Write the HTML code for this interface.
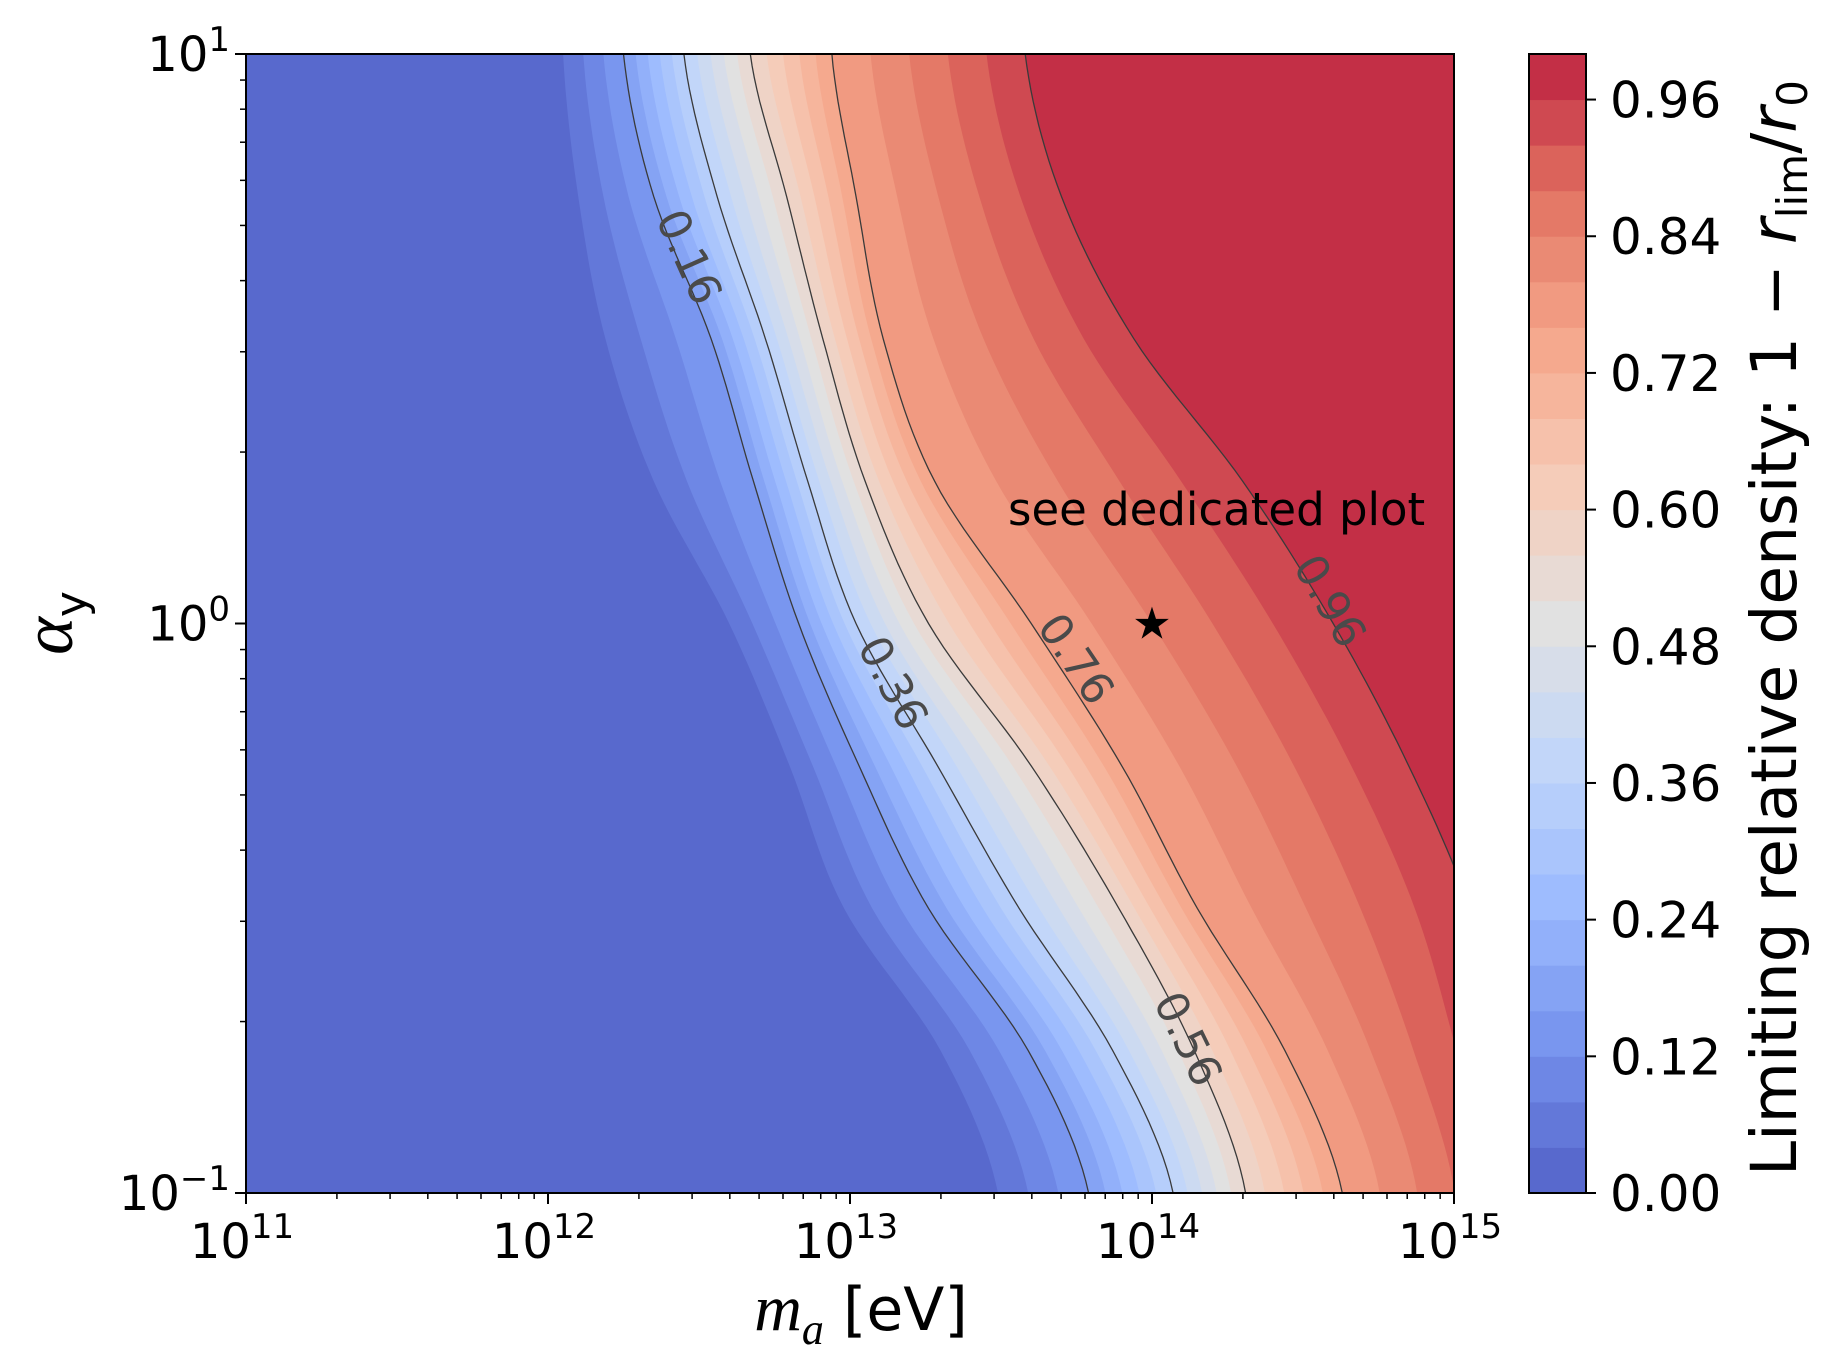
<!DOCTYPE html>
<html><head><meta charset="utf-8">
<style>
html,body{margin:0;padding:0;background:#fff;}
svg{display:block;}
text{font-family:"DejaVu Sans","Liberation Sans",sans-serif;}
</style></head>
<body>
<svg id="chart" width="1830" height="1372" viewBox="0 0 1830 1372" xmlns="http://www.w3.org/2000/svg">
<defs><clipPath id="plotclip"><rect x="246" y="54" width="1208" height="1139"/></clipPath></defs>
<g id="bands" clip-path="url(#plotclip)"></g>
<g id="lines" clip-path="url(#plotclip)"></g>
<g id="clabels"></g>
<g id="axes"></g>
<g id="cbar"></g>
</svg>
<script>
// ---- data ----
const alphaLogs = [1, 0.75, 0.5, 0.25, 0, -0.25, -0.5, -0.75, -1];
const contourLevels = [0.04, 0.16, 0.36, 0.56, 0.76, 0.96];
const c004 = [12.05, 12.10, 12.19, 12.35, 12.60, 12.80, 12.98, 13.30, 13.49];
const c016 = [12.25, 12.35, 12.54, 12.68, 12.83, 13.03, 13.26, 13.59, 13.79];
const c036 = [12.45, 12.56, 12.72, 12.86, 13.02, 13.29, 13.56, 13.87, 14.07];
const c056 = [12.67, 12.79, 12.91, 13.05, 13.26, 13.60, 13.89, 14.14, 14.31];
const c076 = [12.94, 13.02, 13.11, 13.28, 13.60, 13.90, 14.15, 14.44, 14.63];
const c096 = [13.58, 13.70, 13.94, 14.30, 14.60, 14.85, 15.05, 15.15, 15.25];
const lineLevels = [0.16, 0.36, 0.56, 0.76, 0.96];
const xTicks = [11, 12, 13, 14, 15];
const yTicks = [1, 0, -1];
const cbarTicks = [0.00, 0.12, 0.24, 0.36, 0.48, 0.60, 0.72, 0.84, 0.96];
const contourLabelText = ["0.16", "0.36", "0.56", "0.76", "0.96"];
const starPoint = [14, 0];

// ---- geometry ----
const X0=246, X1=1454, Y0=54, Y1=1193;
const xS = lm => X0 + (lm-11)/4*(X1-X0);
const yS = la => Y0 + (1-la)/2*(Y1-Y0);
const CB0=1529, CB1=1586;
const cbY = v => Y1 - v*(Y1-Y0);
const NS="http://www.w3.org/2000/svg";
function mk(tag, attrs, parent){const e=document.createElementNS(NS,tag);for(const k in attrs)e.setAttribute(k,attrs[k]);parent.appendChild(e);return e;}

const curves=[c004,c016,c036,c056,c076,c096];
const cw=[[0,59,76,192],[0.125,98,130,234],[0.25,141,176,254],[0.375,184,208,249],[0.5,221,221,221],[0.625,245,196,173],[0.75,244,154,123],[0.875,222,96,77],[1,180,4,38]];
function coolwarm(t){for(let i=0;i<cw.length-1;i++){if(t<=cw[i+1][0]){const f=(t-cw[i][0])/(cw[i+1][0]-cw[i][0]);return [1,2,3].map(j=>cw[i][j]+(cw[i+1][j]-cw[i][j])*f);}}return cw[cw.length-1].slice(1);}
function bandColor(i){const c=coolwarm((i+0.5)/25).map(v=>Math.round(v*0.88+255*0.12));return `rgb(${c[0]},${c[1]},${c[2]})`;}

function curveForLevel(L){
  let k=0; while(k<contourLevels.length-2 && L>contourLevels[k+1]) k++;
  const f=(L-contourLevels[k])/(contourLevels[k+1]-contourLevels[k]);
  return alphaLogs.map((a,j)=>curves[k][j]+(curves[k+1][j]-curves[k][j])*f);
}
function samples(xs){
  const pts=[]; const n=alphaLogs.length;
  for(let i=0;i<n-1;i++){
    const p0=xs[Math.max(i-1,0)],p1=xs[i],p2=xs[i+1],p3=xs[Math.min(i+2,n-1)];
    const a0=alphaLogs[i],a1=alphaLogs[i+1];
    for(let s=0;s<12;s++){const t=s/12;
      const x=0.5*((2*p1)+(-p0+p2)*t+(2*p0-5*p1+4*p2-p3)*t*t+(-p0+3*p1-3*p2+p3)*t*t*t);
      pts.push([xS(x),yS(a0+(a1-a0)*t)]);}
  }
  pts.push([xS(xs[n-1]),yS(alphaLogs[n-1])]);
  return pts;
}
const bands=document.getElementById('bands');
const base=mk('rect',{x:X0,y:Y0,width:X1-X0,height:Y1-Y0,fill:bandColor(0)},bands);


for(let i=1;i<25;i++){
  const L=i*0.04;
  const pts=samples(curveForLevel(L));
  let d='M'+pts.map(p=>p[0].toFixed(1)+','+p[1].toFixed(1)).join(' L');
  d+=` L${X1+400},${Y1+5} L${X1+400},${Y0-5} Z`;
  const p=mk('path',{d:d,fill:bandColor(i)},bands);
  
  
}
const lines=document.getElementById('lines');
lineLevels.forEach((L,i)=>{
  const pts=samples(curveForLevel(L));
  const p=mk('path',{d:'M'+pts.map(q=>q[0].toFixed(1)+','+q[1].toFixed(1)).join(' L'),fill:'none',stroke:'#3a3a3a','stroke-width':1.3},lines);
  
  
});
const labPos=[[689,257,66],[893,683,62],[1188,1039,64],[1076,659,56],[1330,601,60]];
const cl=document.getElementById('clabels');
labPos.forEach((p,i)=>{
  const t=mk('text',{x:p[0],y:p[1]+15,'font-size':44,fill:'#4a4a4a','text-anchor':'middle',transform:`rotate(${p[2]} ${p[0]} ${p[1]})`},cl);
  t.textContent=contourLabelText[i];
  
  
});
const ax=document.getElementById('axes');
mk('rect',{x:X0,y:Y0,width:X1-X0,height:Y1-Y0,fill:'none',stroke:'#000','stroke-width':2},ax);
xTicks.forEach(v=>{
  const x=xS(v);
  mk('line',{x1:x,y1:Y1,x2:x,y2:Y1+11,stroke:'#000','stroke-width':2},ax);
  const t=mk('text',{x:x-4,y:1258,'font-size':48,'text-anchor':'middle'},ax);
  
  
  t.innerHTML=`10<tspan dy="-20" font-size="34">${v}</tspan>`;
});
for(let d=11;d<15;d++)for(let k=2;k<10;k++){const x=xS(d+Math.log10(k));mk('line',{x1:x,y1:Y1,x2:x,y2:Y1+6,stroke:'#000','stroke-width':1.5},ax);}
yTicks.forEach(v=>{
  const y=yS(v);
  mk('line',{x1:X0-11,y1:y,x2:X0,y2:y,stroke:'#000','stroke-width':2},ax);
  const t=mk('text',{x:230,y:y+17,'font-size':48,'text-anchor':'end'},ax);
  
  
  t.innerHTML=`10<tspan dy="-20" font-size="34">${v===-1?'\u22121':v}</tspan>`;
});
for(let d=-1;d<1;d++)for(let k=2;k<10;k++){const y=yS(d+Math.log10(k));mk('line',{x1:X0-6,y1:y,x2:X0,y2:y,stroke:'#000','stroke-width':1.5},ax);}
const st=mk('text',{x:xS(starPoint[0]),y:yS(starPoint[1])+15,'font-size':44,'text-anchor':'middle',fill:'#000'},ax);
st.textContent='★';


const an=mk('text',{x:1008,y:525,'font-size':45,fill:'#000'},ax);
an.textContent='see dedicated plot';


const xt=mk('text',{x:861,y:1330,'font-size':60,'text-anchor':'middle'},ax);
xt.innerHTML='<tspan font-family="Liberation Serif, serif" font-style="italic" font-size="66">m</tspan><tspan font-family="Liberation Serif, serif" font-style="italic" font-size="44" dy="14">a</tspan><tspan dy="-14"> [eV]</tspan>';


const yt=mk('text',{x:0,y:0,'font-size':72,'text-anchor':'middle',transform:'translate(72 623) rotate(-90)'},ax);
yt.innerHTML='<tspan font-family="Liberation Serif, serif" font-style="italic">α</tspan><tspan font-size="44" dy="14">y</tspan>';


const cb=document.getElementById('cbar');
for(let i=0;i<25;i++){
  const r=mk('rect',{x:CB0,y:cbY((i+1)*0.04),width:CB1-CB0,height:(Y1-Y0)/25+0.5,fill:bandColor(i)},cb);
  
  
}
mk('rect',{x:CB0,y:Y0,width:CB1-CB0,height:Y1-Y0,fill:'none',stroke:'#000','stroke-width':2},cb);
cbarTicks.forEach(v=>{
  const y=cbY(v);
  mk('line',{x1:CB1,y1:y,x2:CB1+10,y2:y,stroke:'#000','stroke-width':2},cb);
  const t=mk('text',{x:1610,y:y+18,'font-size':50},cb);
  t.textContent=v.toFixed(2);
  
  
});
const ct=mk('text',{x:0,y:0,'font-size':63,'text-anchor':'middle',transform:'translate(1796 628) rotate(-90)'},cb);
ct.innerHTML='Limiting relative density: 1 − <tspan font-style="italic">r</tspan><tspan font-size="42" dy="11">lim</tspan><tspan dy="-11">/</tspan><tspan font-style="italic">r</tspan><tspan font-size="42" dy="11">0</tspan>';


</script>
</body></html>
